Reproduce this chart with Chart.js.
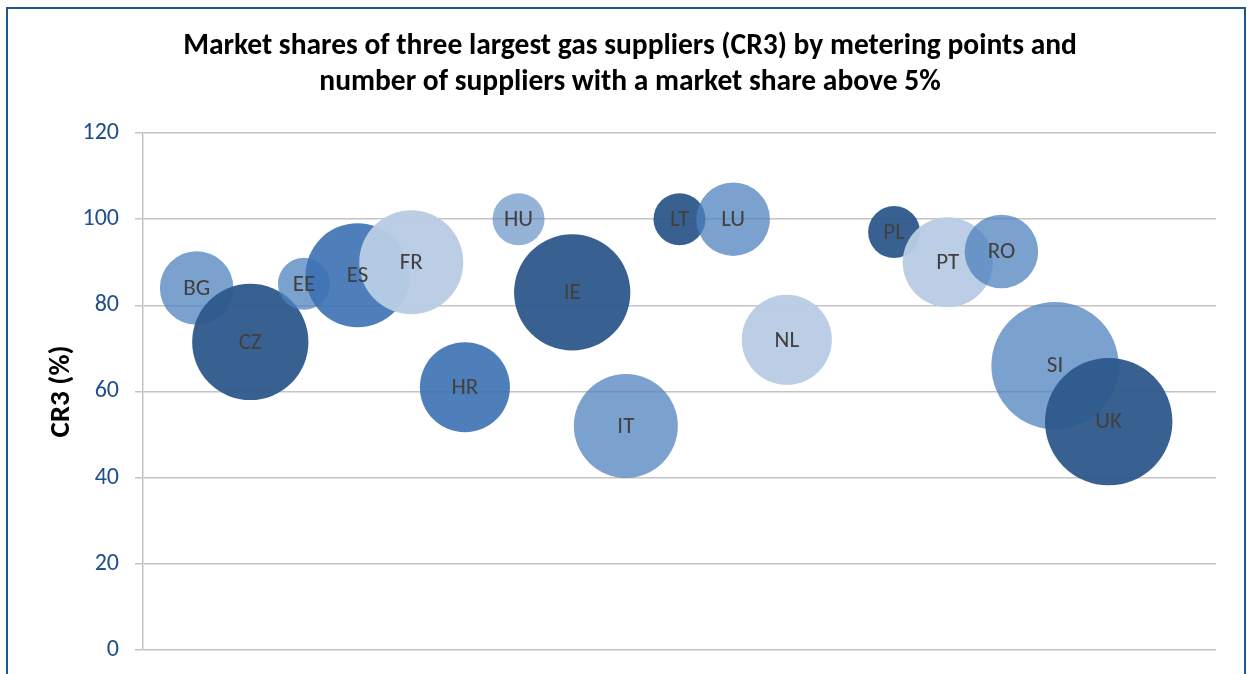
<!DOCTYPE html>
<html>
<head>
<meta charset="utf-8">
<script src="https://cdn.jsdelivr.net/npm/chart.js@4.4.1/dist/chart.umd.min.js"></script>
<style>
    body { margin: 0; background: #fff; overflow: hidden; }
    #wrap { position: relative; width: 1247px; height: 674px; }
    #frame {
        position: absolute; left: 6px; top: 7px; width: 1236px; height: 720px;
        border: 2px solid #1F5791; pointer-events: none;
    }
</style>
</head>
<body>
<div id="wrap">
    <canvas id="bubbleChart" width="1247" height="674"></canvas>
    <div id="frame"></div>
</div>
<script>
// Countries, plotted at category positions along a 0-20 x axis
const countries = ['BG', 'CZ', 'EE', 'ES', 'FR', 'HR', 'HU', 'IE', 'IT', 'LT', 'LU', 'NL', 'PL', 'PT', 'RO', 'SI', 'UK'];
const xPositions = [1, 2, 3, 4, 5, 6, 7, 8, 9, 10, 11, 12, 14, 15, 16, 17, 18];
// CR3 market share by metering points (%)
const cr3Values = [84, 71.5, 85, 87, 90, 61, 100, 83, 52, 100, 100, 72, 97, 90, 92.5, 66, 53];
// Number of suppliers with a market share above 5% (bubble size)
const supplierCounts = [2, 5, 1, 4, 4, 3, 1, 5, 4, 1, 2, 3, 1, 3, 2, 6, 6];
const yTicks = [0, 20, 40, 60, 80, 100, 120];

// Shade per bubble
const shade = {
    dark: 'rgba(45, 88, 140, 0.95)',
    mid: 'rgba(60, 113, 178, 0.9)',
    light: 'rgba(79, 129, 189, 0.75)',
    pale: 'rgba(79, 129, 189, 0.6)',
    palest: 'rgba(184, 204, 228, 0.96)'
};
const bubbleShades = ['light', 'dark', 'light', 'mid', 'palest', 'mid', 'pale', 'dark', 'light',
    'dark', 'light', 'palest', 'dark', 'palest', 'light', 'light', 'dark'];

const FONT = 'Carlito, Lato, "Open Sans", sans-serif';
const BASE_RADIUS = 26;

const points = countries.map((c, i) => ({
    x: xPositions[i],
    y: cr3Values[i],
    r: BASE_RADIUS * Math.sqrt(supplierCounts[i])
}));

// Country code written in the middle of each bubble
const bubbleLabels = {
    id: 'bubbleLabels',
    afterDatasetsDraw(chart) {
        const ctx = chart.ctx;
        const meta = chart.getDatasetMeta(0);
        ctx.save();
        ctx.font = '23px ' + FONT;
        ctx.fillStyle = '#404040';
        ctx.textAlign = 'center';
        ctx.textBaseline = 'middle';
        meta.data.forEach((el, i) => {
            ctx.fillText(countries[i], el.x, el.y + 1);
        });
        ctx.restore();
    }
};

const ctx = document.getElementById('bubbleChart').getContext('2d');
new Chart(ctx, {
    type: 'bubble',
    data: {
        datasets: [{
            label: 'CR3',
            data: points,
            backgroundColor: bubbleShades.map(s => shade[s]),
            borderWidth: 0,
            hoverBorderWidth: 0,
            clip: false
        }]
    },
    options: {
        responsive: false,
        animation: false,
        layout: {
            autoPadding: false,
            padding: { left: 44, right: 31, top: 29, bottom: 24 }
        },
        plugins: {
            legend: { display: false },
            tooltip: { enabled: false },
            title: {
                display: true,
                text: [
                    'Market shares of three largest gas suppliers (CR3) by metering points and',
                    'number of suppliers with a market share above 5%'
                ],
                color: '#000',
                font: { family: FONT, size: 29.5, weight: 'bold', lineHeight: 1.22 },
                padding: { top: 0, bottom: 32 }
            }
        },
        scales: {
            x: {
                type: 'linear',
                display: false,
                min: 0,
                max: 20
            },
            y: {
                min: 0,
                max: 120,
                afterBuildTicks(scale) {
                    scale.ticks = yTicks.map(v => ({ value: v }));
                },
                afterFit(scale) {
                    scale.width = 99;
                    scale.paddingTop = 0;
                    scale.paddingBottom = 0;
                },
                ticks: {
                    color: '#1F4E8C',
                    font: { family: FONT, size: 24 },
                    padding: 16
                },
                grid: {
                    color: '#C4C4C4',
                    lineWidth: 1.5,
                    tickLength: 8
                },
                border: { display: true, color: '#C4C4C4', width: 1.5 },
                title: {
                    display: true,
                    text: 'CR3 (%)',
                    color: '#000',
                    font: { family: FONT, size: 29, weight: 'bold' },
                    padding: { top: 0, bottom: 0 }
                }
            }
        }
    },
    plugins: [bubbleLabels]
});
</script>
</body>
</html>
